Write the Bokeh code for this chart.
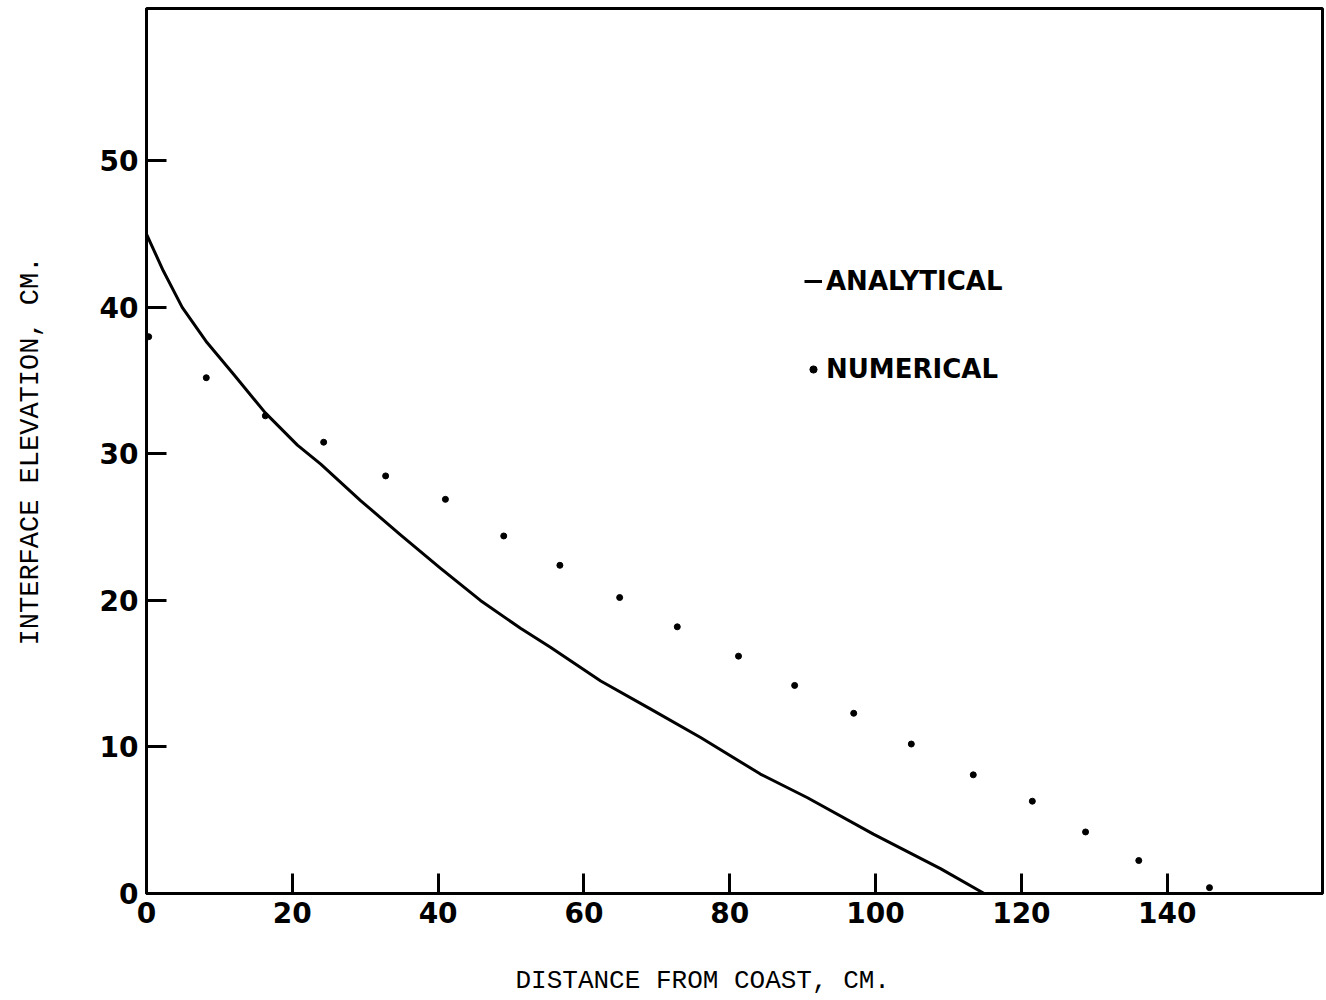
from bokeh.plotting import figure
from bokeh.models import FixedTicker, Range1d, Legend, LegendItem, Title
from bokeh.embed import file_html
from bokeh.resources import INLINE

# Analytical solution (solid curve)
analytical_x = [0, 2.3, 4.9, 8.3, 12.0, 16.3, 20.7, 23.9, 29.4, 34.8, 40.3,
                45.8, 51.3, 55.4, 62.3, 69.1, 76.0, 84.2, 90.6, 99.7, 108.9, 114.9]
analytical_y = [45.0, 42.5, 40.0, 37.6, 35.4, 32.8, 30.6, 29.3, 26.8, 24.5, 22.2,
                20.0, 18.1, 16.8, 14.5, 12.6, 10.65, 8.15, 6.55, 4.05, 1.7, 0.0]

# Numerical solution (dots)
numerical_x = [0.3, 8.2, 16.3, 24.3, 32.8, 41.0, 49.0, 56.7, 64.9, 72.8,
               81.2, 88.9, 97.0, 104.9, 113.4, 121.5, 128.8, 136.1, 145.8]
numerical_y = [38.0, 35.2, 32.6, 30.8, 28.5, 26.9, 24.4, 22.4, 20.2, 18.2,
               16.2, 14.2, 12.3, 10.2, 8.1, 6.3, 4.2, 2.25, 0.4]

x_ticks = [0, 20, 40, 60, 80, 100, 120, 140]
y_ticks = [0, 10, 20, 30, 40, 50]

x_title = "DISTANCE FROM COAST, CM."
y_title = "INTERFACE ELEVATION, CM."

p = figure(width=1326, height=1000, output_backend="svg", toolbar_location=None,
           x_range=Range1d(0, 161.3), y_range=Range1d(0, 60.4),
           min_border_left=146, min_border_right=4, min_border_top=8, min_border_bottom=0)
p.background_fill_color = "white"
p.border_fill_color = "white"
p.grid.visible = False
p.outline_line_color = "black"
p.outline_line_width = 3
p.outline_line_alpha = 1.0

for ax, ticks in ((p.xaxis[0], x_ticks), (p.yaxis[0], y_ticks)):
    ax.ticker = FixedTicker(ticks=ticks)
    ax.axis_line_color = "black"
    ax.axis_line_width = 3
    ax.major_tick_in = 20
    ax.major_tick_out = 0
    ax.major_tick_line_width = 3
    ax.major_tick_line_color = "black"
    ax.minor_tick_line_color = None
    ax.major_label_text_font = "DejaVu Sans"
    ax.major_label_text_font_style = "bold"
    ax.major_label_text_font_size = "28px"
    ax.major_label_text_color = "black"
    ax.major_label_standoff = 8

p.yaxis[0].axis_label = y_title
p.yaxis[0].axis_label_text_font = "Liberation Mono"
p.yaxis[0].axis_label_text_font_style = "normal"
p.yaxis[0].axis_label_text_font_size = "27px"
p.yaxis[0].axis_label_text_color = "black"
p.yaxis[0].axis_label_standoff = 51

line = p.line(analytical_x, analytical_y, line_color="black", line_width=3,
              line_join="round")
dots = p.scatter(numerical_x, numerical_y, size=6, color="black")

# blank spacer panel between the x axis and its title
spacer = Title(text=" ", standoff=20, text_font_size="10px", text_line_height=1.0,
               text_color="white")
p.add_layout(spacer, "below")

xt = Title(text=x_title, align="left", offset=369, standoff=10,
           text_font="Liberation Mono", text_font_size="26px", text_line_height=1.0,
           text_font_style="normal", text_color="black")
p.add_layout(xt, "below")

legend = Legend(items=[LegendItem(label="ANALYTICAL", renderers=[line]),
                       LegendItem(label="NUMERICAL", renderers=[dots])],
                location=(658, 509), orientation="vertical",
                glyph_width=18, glyph_height=30, label_height=30, label_width=10,
                spacing=58, padding=0, margin=0, label_standoff=4,
                border_line_color=None, background_fill_alpha=0,
                label_text_font="DejaVu Sans", label_text_font_style="bold",
                label_text_font_size="26px", label_text_color="black")
p.add_layout(legend)

open("out.html", "w").write(file_html(p, INLINE))
